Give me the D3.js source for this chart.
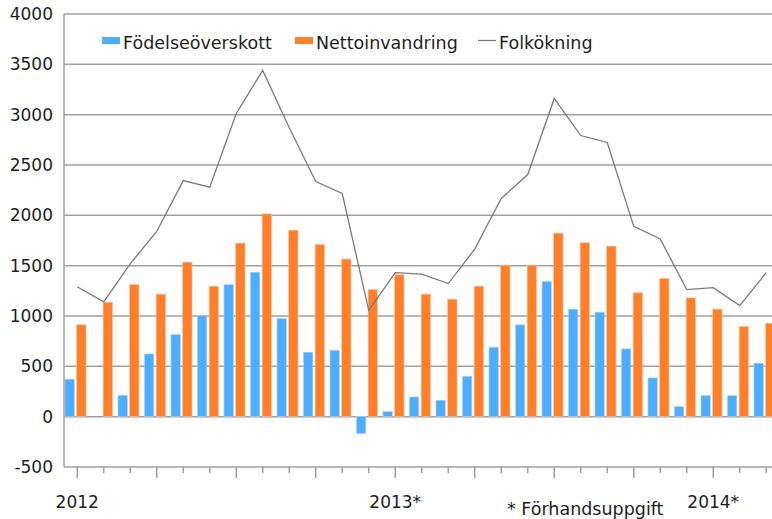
<!DOCTYPE html>
<html>
<head>
<meta charset="utf-8">
<script src="https://cdn.jsdelivr.net/npm/d3@7"></script>
<style>
  html, body { margin: 0; padding: 0; background: #fff; }
  svg { display: block; font-family: "DejaVu Sans", Verdana, sans-serif; }
</style>
</head>
<body>
<div id="chart"></div>
<script>
// Monthly values, Jan 2012 - Mar 2014
const months = d3.range(27);
const fodelseoverskott = [372, 0, 212, 623, 815, 1004, 1312, 1435, 974, 640, 660, -169,
  50, 196, 163, 401, 690, 912, 1342, 1068, 1038, 673, 385, 99,
  209, 209, 531];
const nettoinvandring = [912, 1137, 1312, 1217, 1535, 1296, 1724, 2014, 1853, 1710, 1565, 1262,
  1409, 1217, 1167, 1296, 1505, 1505, 1823, 1727, 1694, 1230, 1372, 1180,
  1068, 895, 928];
const folkokning = [1290, 1140, 1520, 1840, 2345, 2280, 3012, 3440, 2870, 2336, 2217, 1055,
  1431, 1415, 1322, 1665, 2167, 2405, 3161, 2793, 2724, 1890, 1765, 1262,
  1282, 1103, 1431];
const yearLabels = [{ i: 0, text: "2012" }, { i: 12, text: "2013*" }, { i: 24, text: "2014*" }];
const yTicks = d3.range(-500, 4001, 500);

const width = 772;
const height = 519;
const gridColor = "#a0a0a0";
const textColor = "#1e1e1e";

const svg = d3.select("#chart")
  .append("svg")
  .attr("width", width)
  .attr("height", height);

const x = d3.scaleBand()
  .domain(months)
  .range([64, 64 + 27 * 26.5]);

const xSeries = d3.scaleBand()
  .domain(["fodelse", "netto"])
  .range([1, 22])
  .paddingInner(0.2);

const y = d3.scaleLinear()
  .domain([-500, 4000])
  .range([467, 14]);

const center = (i) => x(i) + x.bandwidth() / 2;

// Gridlines
svg.append("g")
  .selectAll("line")
  .data(yTicks)
  .join("line")
  .attr("x1", 64)
  .attr("x2", width)
  .attr("y1", (d) => y(d))
  .attr("y2", (d) => y(d))
  .attr("stroke", gridColor)
  .attr("stroke-width", 1.5);

// Y labels
svg.append("g")
  .selectAll("text")
  .data(yTicks)
  .join("text")
  .attr("x", 53)
  .attr("y", (d) => y(d))
  .attr("dy", "0.36em")
  .attr("text-anchor", "end")
  .attr("font-size", 17)
  .attr("fill", textColor)
  .text((d) => d);

// Bars
const bars = svg.append("g");
bars.selectAll("rect.fodelse")
  .data(fodelseoverskott)
  .join("rect")
  .attr("class", "fodelse")
  .attr("x", (d, i) => x(i) + xSeries("fodelse"))
  .attr("width", xSeries.bandwidth())
  .attr("y", (d) => y(Math.max(0, d)))
  .attr("height", (d) => Math.abs(y(d) - y(0)))
  .attr("fill", "#4dadff")
  .attr("stroke", (d) => (d === 0 ? "none" : "#a6d4ff"))
  .attr("stroke-width", 0.6);

bars.selectAll("rect.netto")
  .data(nettoinvandring)
  .join("rect")
  .attr("class", "netto")
  .attr("x", (d, i) => x(i) + xSeries("netto"))
  .attr("width", xSeries.bandwidth())
  .attr("y", (d) => y(Math.max(0, d)))
  .attr("height", (d) => Math.abs(y(d) - y(0)))
  .attr("fill", "#ff7f2a")
  .attr("stroke", "#ffbf94")
  .attr("stroke-width", 0.6);

// Line
const line = d3.line()
  .x((d, i) => center(i))
  .y((d) => y(d));

svg.append("path")
  .datum(folkokning)
  .attr("d", line)
  .attr("fill", "none")
  .attr("stroke", "#7a7a7a")
  .attr("stroke-width", 1.3);

// Axes lines
svg.append("line")
  .attr("x1", 64).attr("x2", 64)
  .attr("y1", y(4000)).attr("y2", y(-500))
  .attr("stroke", gridColor)
  .attr("stroke-width", 1.5);

svg.append("g")
  .selectAll("line")
  .data(months)
  .join("line")
  .attr("x1", (d) => center(d))
  .attr("x2", (d) => center(d))
  .attr("y1", y(-500))
  .attr("y2", (d) => y(-500) + (d % 3 === 0 ? 11 : 6))
  .attr("stroke", gridColor)
  .attr("stroke-width", 1.5);

// Year labels
svg.append("g")
  .selectAll("text")
  .data(yearLabels)
  .join("text")
  .attr("x", (d) => center(d.i))
  .attr("y", 508)
  .attr("text-anchor", "middle")
  .attr("font-size", 17)
  .attr("fill", textColor)
  .text((d) => d.text);

svg.append("text")
  .attr("x", 507)
  .attr("y", 515)
  .attr("font-size", 17.5)
  .attr("fill", textColor)
  .text("* Förhandsuppgift");

// Legend
const legend = svg.append("g").attr("font-size", 17.5).attr("fill", textColor);
const legendItems = [
  { label: "Födelseöverskott", type: "rect", color: "#4dadff", x: 102 },
  { label: "Nettoinvandring", type: "rect", color: "#ff7f2a", x: 295 },
  { label: "Folkökning", type: "line", color: "#7a7a7a", x: 478 }
];
legendItems.forEach((item) => {
  if (item.type === "rect") {
    legend.append("rect")
      .attr("x", item.x).attr("y", 37)
      .attr("width", 18).attr("height", 7)
      .attr("fill", item.color);
  } else {
    legend.append("line")
      .attr("x1", item.x).attr("x2", item.x + 18)
      .attr("y1", 40.5).attr("y2", 40.5)
      .attr("stroke", item.color)
      .attr("stroke-width", 1.3);
  }
  legend.append("text")
    .attr("x", item.x + 21)
    .attr("y", 49)
    .text(item.label);
});
</script>
</body>
</html>
